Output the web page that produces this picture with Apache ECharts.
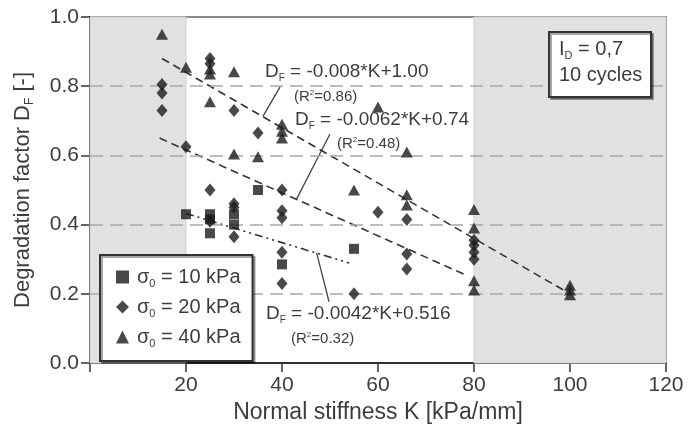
<!DOCTYPE html>
<html><head><meta charset="utf-8">
<script src="https://cdn.jsdelivr.net/npm/echarts@6/dist/echarts.min.js"></script>
<style>html,body{margin:0;padding:0;background:#fff}#c{width:689px;height:433px}</style>
</head><body><div id="c"></div>
<script>
// ---- data ----
const xTicks = [0, 20, 40, 60, 80, 100, 120];
const yTicks = [0.0, 0.2, 0.4, 0.6, 0.8, 1.0];
const shadedRanges = [[0, 20], [80, 120]];
const sigma10 = [[20,0.43],[25,0.43],[25,0.415],[25,0.375],[30,0.43],[30,0.40],[35,0.50],[40,0.285],[55,0.33]];
const sigma20 = [[15,0.805],[15,0.78],[15,0.73],[20,0.625],[25,0.88],[25,0.865],[25,0.50],[25,0.41],[30,0.73],[30,0.46],[30,0.45],[30,0.365],[35,0.665],[40,0.50],[40,0.44],[40,0.42],[40,0.32],[40,0.23],[55,0.20],[60,0.436],[66,0.415],[66,0.315],[66,0.272],[80,0.355],[80,0.34],[80,0.32],[80,0.30]];
const sigma40 = [[15,0.95],[20,0.855],[25,0.85],[25,0.835],[25,0.755],[30,0.842],[30,0.604],[35,0.596],[40,0.69],[40,0.67],[40,0.65],[55,0.50],[60,0.74],[66,0.61],[66,0.486],[66,0.457],[80,0.444],[80,0.39],[80,0.238],[80,0.211],[100,0.225],[100,0.211],[100,0.197]];
const fit40 = [[15,0.88],[100,0.20]];
const fit20 = [[14.5,0.65],[78,0.256]];
const fit10 = [[20,0.432],[54,0.289]];
const leader40 = [[39.6,0.798],[36,0.712]];
const leader20 = [[50,0.662],[43,0.473]];
const leader10 = [[47.2,0.319],[49.8,0.177]];
const seriesNames = ['σ0 = 10 kPa','σ0 = 20 kPa','σ0 = 40 kPa'];
const eqTexts = ['= -0.008*K+1.00','= -0.0062*K+0.74','= -0.0042*K+0.516'];
const r2Texts = ['0.86','0.48','0.32'];

const FONT = '"Liberation Sans", Arial, sans-serif';
const TXT = '#3d3d3d';
const chart = echarts.init(document.getElementById('c'));

const subRich = (fs) => ({
  a: {fontSize: fs, color: TXT, fontFamily: FONT},
  s: {fontSize: Math.round(fs*0.55), color: TXT, fontFamily: FONT, verticalAlign: 'bottom', padding: [0,0,-2,0]},
  u: {fontSize: Math.round(fs*0.55), color: TXT, fontFamily: FONT, verticalAlign: 'top'}
});

function eqGraphic(x, y, eq) {
  return {type: 'text', left: x, top: y, z: 100,
    style: {text: '{a|D}{s|F}{a| ' + eq + '}', rich: subRich(19), fill: TXT, font: '19px ' + FONT}};
}
function r2Graphic(x, y, r) {
  return {type: 'text', left: x, top: y, z: 100,
    style: {text: '{a|(R}{u|2}{a|=' + r + ')}', rich: subRich(15), fill: TXT, font: '15px ' + FONT}};
}

const lineSeries = (data, type) => ({
  type: 'line', data: data, symbol: 'none', silent: true, z: 3,
  lineStyle: {color: '#333', width: 1.6, type: type}
});
const leaderSeries = (data) => ({
  type: 'line', data: data, symbol: 'none', silent: true, z: 3,
  lineStyle: {color: '#444', width: 1.3, type: 'solid'}
});

chart.setOption({
  animation: false,
  backgroundColor: '#fff',
  grid: {left: 90, top: 17, width: 576, height: 346, show: true, borderColor: '#8a8a8a', borderWidth: 2, backgroundColor: 'transparent'},
  xAxis: {
    type: 'value', min: xTicks[0], max: xTicks[xTicks.length-1], interval: 20,
    axisLine: {show: true, onZero: false, lineStyle: {color: '#333', width: 2}},
    axisTick: {show: true, length: 9, lineStyle: {color: '#333', width: 1.5}},
    axisLabel: {fontSize: 21, color: TXT, fontFamily: FONT, margin: 12,
      formatter: v => v === 0 ? '' : String(v)},
    splitLine: {show: false},
    name: 'Normal stiffness K [kPa/mm]', nameLocation: 'middle', nameGap: 38,
    nameTextStyle: {fontSize: 23, color: TXT, fontFamily: FONT}
  },
  yAxis: {
    type: 'value', min: yTicks[0], max: yTicks[yTicks.length-1], interval: 0.2,
    axisLine: {show: true, lineStyle: {color: '#333', width: 2}},
    axisTick: {show: true, length: 9, lineStyle: {color: '#333', width: 1.5}},
    axisLabel: {fontSize: 21, color: TXT, fontFamily: FONT, margin: 11,
      formatter: v => v.toFixed(1)},
    splitLine: {show: false},
    name: '{a|Degradation factor D}{s|F}{a| [-]}', nameLocation: 'middle', nameGap: 56,
    nameTextStyle: {fontSize: 22, color: TXT, fontFamily: FONT, rich: subRich(22)}
  },
  legend: {
    orient: 'vertical', left: 100, top: 255, z: 50,
    data: seriesNames,
    backgroundColor: '#fff', borderColor: '#333', borderWidth: 2,
    padding: [12, 12, 12, 16], itemGap: 8, itemWidth: 13, itemHeight: 13,
    shadowColor: 'rgba(0,0,0,0.35)', shadowOffsetX: 2, shadowOffsetY: 2, shadowBlur: 0,
    textStyle: {fontSize: 20, color: TXT, fontFamily: FONT, rich: subRich(20), padding: [0,0,0,3]},
    formatter: n => '{a|σ}{s|0}{a|' + n.slice(2) + '}'
  },
  series: [
    {type: 'scatter', data: [], z: -1, silent: true,
      markArea: {silent: true, itemStyle: {color: '#e1e1e1', borderColor: '#cfcfcf', borderWidth: 1},
        data: shadedRanges.map(r => [{xAxis: r[0]}, {xAxis: r[1]}])}},
    {type: 'scatter', data: [], z: 1, silent: true,
      markLine: {silent: true, symbol: 'none', label: {show: false},
        lineStyle: {color: '#a8a8a8', width: 1.5, type: [13, 7]},
        data: yTicks.slice(1, -1).map(v => ({yAxis: v}))}},
    {name: seriesNames[0], type: 'scatter', data: sigma10, symbol: 'rect', symbolSize: 10,
      itemStyle: {color: '#1c1c1c'}, z: 5},
    {name: seriesNames[1], type: 'scatter', data: sigma20, symbol: 'diamond', symbolSize: [11, 13],
      itemStyle: {color: '#1c1c1c'}, z: 5},
    {name: seriesNames[2], type: 'scatter', data: sigma40, symbol: 'triangle', symbolSize: [12, 11],
      itemStyle: {color: '#1c1c1c'}, z: 5},
    lineSeries(fit40, [8, 5]),
    lineSeries(fit20, [8, 5]),
    lineSeries(fit10, [8, 4, 2, 4, 2, 4]),
    leaderSeries(leader40),
    leaderSeries(leader20),
    leaderSeries(leader10)
  ],
  graphic: [
    eqGraphic(265, 62, eqTexts[0]),
    r2Graphic(294, 89, r2Texts[0]),
    eqGraphic(295, 110, eqTexts[1]),
    r2Graphic(337, 136, r2Texts[1]),
    eqGraphic(266, 304, eqTexts[2]),
    r2Graphic(291, 331, r2Texts[2]),
    {type: 'rect', left: 548, top: 31, z: 100,
      shape: {width: 102, height: 65},
      style: {fill: '#fff', stroke: '#333', lineWidth: 2, shadowColor: 'rgba(0,0,0,0.35)', shadowOffsetX: 2, shadowOffsetY: 2}},
    {type: 'text', left: 559, top: 39, z: 101,
      style: {text: '{a|I}{s|D}{a| = 0,7}', rich: subRich(20), fill: TXT, font: '20px ' + FONT}},
    {type: 'text', left: 559, top: 65, z: 101,
      style: {text: '10 cycles', fill: TXT, font: '20px ' + FONT}}
  ]
});
</script></body></html>
